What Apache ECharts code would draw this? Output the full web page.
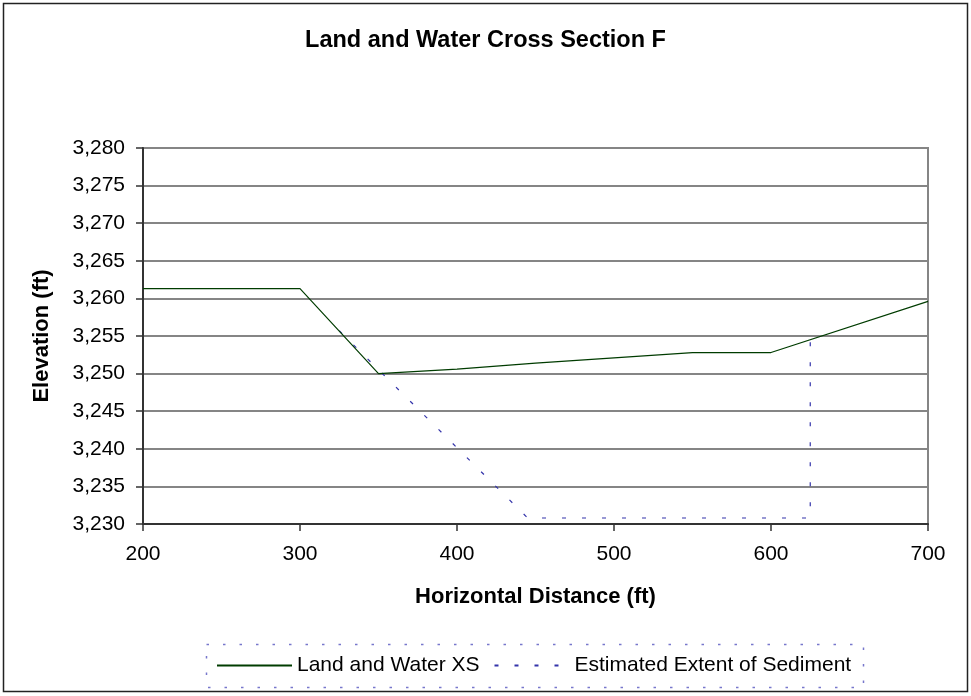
<!DOCTYPE html>
<html>
<head>
<meta charset="utf-8">
<script src="https://cdn.jsdelivr.net/npm/echarts@6/dist/echarts.min.js"></script>
<style>
html,body{margin:0;padding:0;background:#fff;}
#chart{width:971px;height:696px;}
</style>
</head>
<body>
<div id="chart"></div>
<script>
var titleText = 'Land and Water Cross Section F';
var xAxisName = 'Horizontal Distance (ft)';
var yAxisName = 'Elevation (ft)';
var seriesNames = ['Land and Water XS', 'Estimated Extent of Sediment'];

var landX = [200, 300, 350, 400, 450, 500, 550, 600, 700];
var landY = [3261.3, 3261.3, 3250.0, 3250.6, 3251.4, 3252.1, 3252.8, 3252.8, 3259.6];

var sedX = [325, 445, 625, 625];
var sedY = [3255.7, 3230.8, 3230.8, 3254.5];

var xMin = 200, xMax = 700, xStep = 100;
var yMin = 3230, yMax = 3280, yStep = 5;

function pairs(xs, ys) { return xs.map(function (x, i) { return [x, ys[i]]; }); }

var FONT = 'Liberation Sans, Arial, sans-serif';
var chart = echarts.init(document.getElementById('chart'), null, {renderer: 'canvas'});
chart.setOption({
  animation: false,
  backgroundColor: '#fff',
  title: {
    text: titleText, left: 'center', top: 29, padding: 0,
    textStyle: {fontFamily: FONT, fontSize: 23.5, fontWeight: 'bold', color: '#000'}
  },
  grid: {left: 143, right: 43, top: 148, bottom: 172, show: true, borderColor: '#858585', borderWidth: 2},
  xAxis: {
    type: 'value', min: xMin, max: xMax, interval: xStep,
    name: xAxisName, nameLocation: 'middle', nameGap: 62,
    nameTextStyle: {fontFamily: FONT, fontSize: 22, fontWeight: 'bold', color: '#000'},
    axisLine: {show: true, onZero: false, lineStyle: {color: '#333', width: 2}},
    axisTick: {show: true, length: 7, lineStyle: {color: '#333', width: 1.5}},
    axisLabel: {fontFamily: FONT, fontSize: 21, color: '#000', margin: 20},
    splitLine: {show: false}
  },
  yAxis: {
    type: 'value', min: yMin, max: yMax, interval: yStep,
    name: yAxisName, nameLocation: 'middle', nameGap: 90,
    nameTextStyle: {fontFamily: FONT, fontSize: 22, fontWeight: 'bold', color: '#000'},
    axisLine: {show: true, onZero: false, lineStyle: {color: '#333', width: 2}},
    axisTick: {show: true, length: 7, lineStyle: {color: '#333', width: 1.5}},
    axisLabel: {
      fontFamily: FONT, fontSize: 21, color: '#000', margin: 18,
      formatter: function (v) { return v.toLocaleString('en-US'); }
    },
    splitLine: {show: true, lineStyle: {color: '#858585', width: 2}}
  },
  legend: {
    left: 216, top: 655, padding: 0,
    itemWidth: 75, itemHeight: 14, itemGap: 14,
    itemStyle: {opacity: 0},
    textStyle: {fontFamily: FONT, fontSize: 21, color: '#000'},
    data: seriesNames
  },
  graphic: [
    {type: 'rect', shape: {x: 3.5, y: 3.5, width: 964, height: 688}, silent: true, z: -1,
     style: {fill: 'none', stroke: '#222', lineWidth: 1.5}},
    {type: 'rect', shape: {x: 206.5, y: 644.5, width: 657, height: 43}, silent: true,
     style: {fill: 'none', stroke: '#7777cc', lineWidth: 1.5, lineDash: [2.5, 14]}}
  ],
  series: [
    {
      name: seriesNames[0], type: 'line', data: pairs(landX, landY),
      symbol: 'none', z: 3,
      lineStyle: {color: '#003c00', width: 1.2},
      itemStyle: {color: '#003c00'}
    },
    {
      name: seriesNames[1], type: 'line', data: pairs(sedX, sedY),
      symbol: 'none', z: 2,
      lineStyle: {color: '#3333aa', width: 1.2, type: [4, 16]},
      itemStyle: {color: '#3333aa'}
    }
  ]
});
</script>
</body>
</html>
